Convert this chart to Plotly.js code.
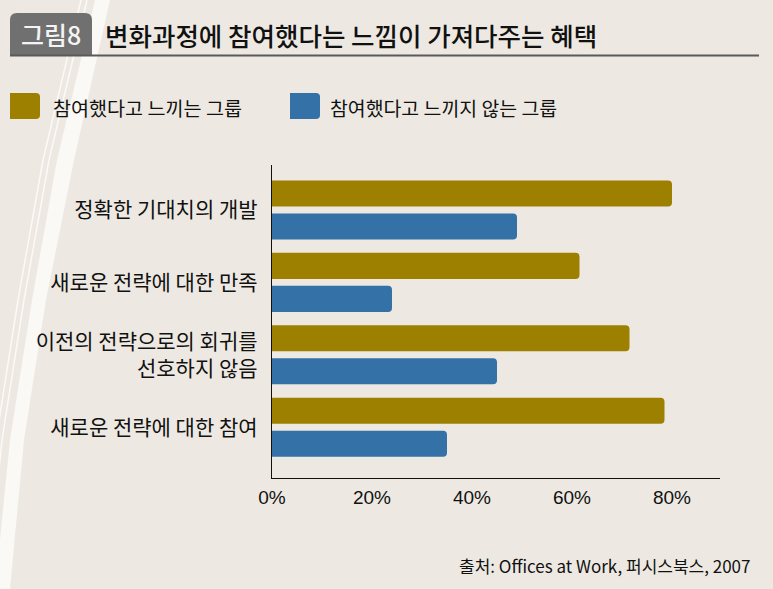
<!DOCTYPE html>
<html>
<head>
<meta charset="utf-8">
<script src="https://cdn.plot.ly/plotly-3.0.1.min.js"></script>
<style>
  html, body { margin: 0; padding: 0; background: #EDE9E2; }
  #chart { width: 773px; height: 589px; }
</style>
</head>
<body>
<div id="chart"></div>
<script>
// ---- data ----
const categories = [
  '정확한 기대치의 개발',
  '새로운 전략에 대한 만족',
  '이전의 전략으로의 회귀를<br>선호하지 않음',
  '새로운 전략에 대한 참여'
];
const seriesNames = ['참여했다고 느끼는 그룹', '참여했다고 느끼지 않는 그룹'];
const feltValues = [80, 61.5, 71.5, 78.5];
const notFeltValues = [49, 24, 45, 35];
const xTickVals = [0, 20, 40, 60, 80];
const xTickText = ['0%', '20%', '40%', '60%', '80%'];
const chartTitle = '변화과정에 참여했다는 느낌이 가져다주는 혜택';
const figureLabel = '그림8';
const sourceText = '출처: Offices at Work, 퍼시스북스, 2007';

// ---- layout helpers ----
const W = 773, H = 589;
const M = { l: 272, r: 53, t: 165, b: 111 };
const PW = W - M.l - M.r, PH = H - M.t - M.b;
const px = x => (x - M.l) / PW;
const py = y => (H - M.b - y) / PH;
const colors = ['#9D8000', '#3371A7'];
const bg = '#EDE9E2';
const kr = '"Noto Sans CJK KR", "Noto Sans", sans-serif';

function pathFrom(points, close) {
  return points.map((p, i) => (i ? 'L' : 'M') + px(p[0]).toFixed(5) + ',' + py(p[1]).toFixed(5)).join(' ') + (close ? ' Z' : '');
}

const traces = [
  { type: 'bar', orientation: 'h', name: seriesNames[0], y: categories, x: feltValues,
    marker: { color: colors[0], cornerradius: 4 }, hoverinfo: 'x+y' },
  { type: 'bar', orientation: 'h', name: seriesNames[1], y: categories, x: notFeltValues,
    marker: { color: colors[1], cornerradius: 4 }, hoverinfo: 'x+y' }
];

// decorative stripes
const bandL = [[95, 0], [57, 160], [32, 300], [10, 440], [-5, 589]];
const bandR = [[110, 0], [74, 160], [46, 300], [24, 440], [10, 589]];
const bandPts = bandL.concat(bandR.slice().reverse());
const line1 = bandL.map(p => [p[0] - 14, p[1]]);
const line2 = bandL.map(p => [p[0] - 8, p[1]]);

const shapes = [
  { type: 'path', xref: 'paper', yref: 'paper', path: pathFrom(bandPts, true),
    fillcolor: 'rgba(255,255,255,0.7)', line: { width: 0 }, layer: 'below' },
  { type: 'path', xref: 'paper', yref: 'paper', path: pathFrom(line1, false),
    line: { color: 'rgba(255,255,255,0.75)', width: 1.5 }, layer: 'below' },
  { type: 'path', xref: 'paper', yref: 'paper', path: pathFrom(line2, false),
    line: { color: 'rgba(255,255,255,0.75)', width: 1.5 }, layer: 'below' },
  // badge with rounded top corners
  { type: 'path', xref: 'paper', yref: 'paper',
    path: 'M' + px(10) + ',' + py(55) + ' L' + px(10) + ',' + py(20) +
          ' Q' + px(10) + ',' + py(13) + ' ' + px(17) + ',' + py(13) +
          ' L' + px(85) + ',' + py(13) +
          ' Q' + px(92) + ',' + py(13) + ' ' + px(92) + ',' + py(20) +
          ' L' + px(92) + ',' + py(55) + ' Z',
    fillcolor: '#707070', line: { width: 0 } },
  // title underline
  { type: 'line', xref: 'paper', yref: 'paper', x0: px(10), x1: px(759), y0: py(55.5), y1: py(55.5),
    line: { color: '#5a5a5a', width: 2.2 } },
  // legend swatches
  { type: 'path', xref: 'paper', yref: 'paper',
    path: 'M' + px(10) + ',' + py(93) + ' L' + px(36) + ',' + py(93) +
          ' Q' + px(40) + ',' + py(93) + ' ' + px(40) + ',' + py(97) +
          ' L' + px(40) + ',' + py(115) +
          ' Q' + px(40) + ',' + py(119) + ' ' + px(36) + ',' + py(119) +
          ' L' + px(10) + ',' + py(119) + ' Z',
    fillcolor: colors[0], line: { width: 0 } },
  { type: 'path', xref: 'paper', yref: 'paper',
    path: 'M' + px(290) + ',' + py(93) + ' L' + px(316) + ',' + py(93) +
          ' Q' + px(320) + ',' + py(93) + ' ' + px(320) + ',' + py(97) +
          ' L' + px(320) + ',' + py(115) +
          ' Q' + px(320) + ',' + py(119) + ' ' + px(316) + ',' + py(119) +
          ' L' + px(290) + ',' + py(119) + ' Z',
    fillcolor: colors[1], line: { width: 0 } }
];

const annotations = [
  { xref: 'paper', yref: 'paper', x: px(51), y: py(34), xanchor: 'center', yanchor: 'middle',
    text: figureLabel, showarrow: false, font: { family: kr, size: 25, weight: 500, color: '#f4f4f4' } },
  { xref: 'paper', yref: 'paper', x: px(103), y: py(34), xanchor: 'left', yanchor: 'middle',
    text: chartTitle, showarrow: false, font: { family: kr, size: 25.5, weight: 500, color: '#111' } },
  { xref: 'paper', yref: 'paper', x: px(51), y: py(107), xanchor: 'left', yanchor: 'middle',
    text: seriesNames[0], showarrow: false, font: { family: kr, size: 19.6, color: '#111' } },
  { xref: 'paper', yref: 'paper', x: px(328), y: py(107), xanchor: 'left', yanchor: 'middle',
    text: seriesNames[1], showarrow: false, font: { family: kr, size: 19.4, color: '#111' } },
  { xref: 'paper', yref: 'paper', x: px(752), y: py(565), xanchor: 'right', yanchor: 'middle',
    text: sourceText, showarrow: false, font: { family: kr, size: 17, color: '#111' } }
];

const layout = {
  width: W, height: H,
  margin: M,
  paper_bgcolor: bg, plot_bgcolor: bg,
  showlegend: false,
  barmode: 'group', bargap: 0.09, bargroupgap: 0.21,
  xaxis: {
    range: [0, 89.6], tickvals: xTickVals, ticktext: xTickText,
    showgrid: false, zeroline: false, showline: true, linecolor: '#111', linewidth: 1.2,
    ticks: '', ticklabelstandoff: 2,
    tickfont: { family: '"Liberation Sans", Arial, sans-serif', size: 19, color: '#111' },
    fixedrange: true
  },
  yaxis: {
    type: 'category', range: [3.70, -0.62],
    showgrid: false, zeroline: false, showline: true, linecolor: '#111', linewidth: 1.2,
    ticks: '', ticklabelstandoff: 9,
    tickfont: { family: kr, size: 21, color: '#111' },
    fixedrange: true
  },
  shapes: shapes,
  annotations: annotations
};

Plotly.newPlot('chart', traces, layout, { displayModeBar: false, staticPlot: true });
</script>
</body>
</html>
